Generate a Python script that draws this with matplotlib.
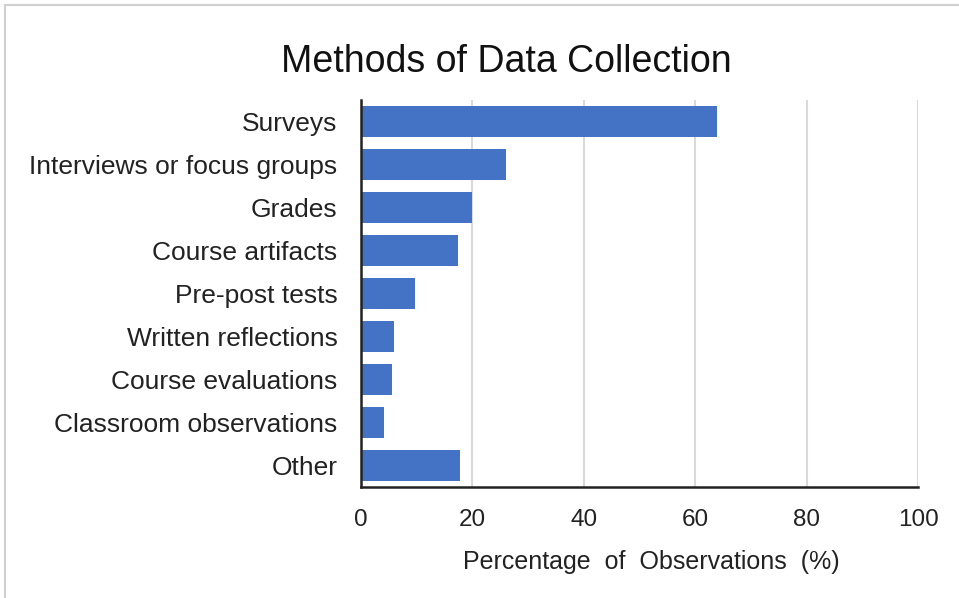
import matplotlib.pyplot as plt
from matplotlib.patches import Rectangle

# data
methods = ["Surveys", "Interviews or focus groups", "Grades", "Course artifacts",
           "Pre-post tests", "Written reflections", "Course evaluations",
           "Classroom observations", "Other"]
percent = [64, 26, 20, 17.4, 9.7, 5.9, 5.6, 4.1, 17.8]
x_ticks = [0, 20, 40, 60, 80, 100]

plt.rcParams['font.family'] = ['Liberation Sans', 'DejaVu Sans']

fig = plt.figure(figsize=(9.59, 5.98), dpi=100)
# plot area in pixels: x 361..918, y 100..487
ax = fig.add_axes([361 / 959, 1 - 487 / 598, (918 - 361) / 959, (487 - 100) / 598])

# thin gray frame around the whole chart (cut off at right and bottom)
fig.patches.append(Rectangle((5 / 959, -0.1), 1.2, 1 - 5 / 598 + 0.1,
                             transform=fig.transFigure, fill=False,
                             edgecolor='#d0d0d0', linewidth=1.5))

pos = list(range(len(methods)))
ax.barh(pos, percent, height=0.74, color='#4472c4', zorder=3)
ax.set_ylim(len(methods) - 0.5, -0.5)
ax.set_xlim(0, 100)

ax.set_yticks(pos)
ax.set_yticklabels(methods, fontsize=19, color='#222222')
ax.set_xticks(x_ticks)
ax.set_xticklabels([str(t) for t in x_ticks], fontsize=17.5, color='#222222')
ax.tick_params(axis='both', length=0)
ax.tick_params(axis='y', pad=17)
ax.tick_params(axis='x', pad=16)

ax.grid(axis='x', color='#d9d9d9', linewidth=1.5, zorder=0)
for side in ['top', 'right']:
    ax.spines[side].set_visible(False)
for side in ['left', 'bottom']:
    ax.spines[side].set_color('#222222')
    ax.spines[side].set_linewidth(1.8)
    ax.spines[side].set_zorder(4)

ax.set_xlabel("Percentage  of  Observations  (%)", fontsize=18,
              color='#222222')
ax.xaxis.set_label_coords((651 - 361) / 557, -(562 - 487) / 387)
ax.xaxis.label.set_va('center')
fig.text(506 / 959, 1 - 62 / 598, "Methods of Data Collection", fontsize=27,
         ha='center', va='center', color='#111111')

fig.savefig("out.png", dpi=100)
